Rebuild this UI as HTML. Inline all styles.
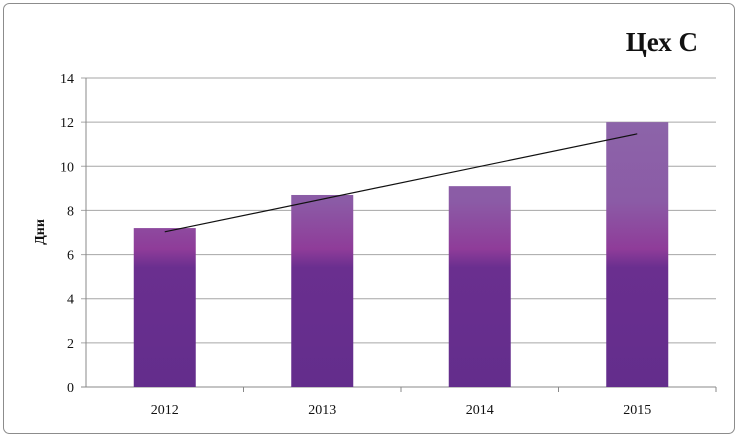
<!DOCTYPE html>
<html><head><meta charset="utf-8"><style>
body{margin:0;background:#fff;}
svg{display:block;font-family:"Liberation Serif",serif;}
</style></head><body>
<svg width="739" height="439">
<defs>
<linearGradient id="g" gradientUnits="userSpaceOnUse" x1="0" y1="122" x2="0" y2="387">
<stop offset="0" stop-color="#8c64a9"/>
<stop offset="0.3" stop-color="#8b5ba6"/>
<stop offset="0.48" stop-color="#8f3c99"/>
<stop offset="0.55" stop-color="#6a2f8f"/>
<stop offset="1" stop-color="#632d8c"/>
</linearGradient>
</defs>
<rect x="3.5" y="3.5" width="731" height="430" rx="6" fill="#fff" stroke="#8c8c8c"/>
<text x="698" y="51" text-anchor="end" font-size="27" font-weight="bold" fill="#111">Цех С</text>
<text transform="translate(44,232) rotate(-90)" text-anchor="middle" font-size="14" font-weight="bold" fill="#111">Дни</text>
<g id="grid"></g><g id="bars"></g><g id="axes"></g>
</svg>
<script>
const categories=["2012","2013","2014","2015"];
const values=[7.2,8.7,9.1,12];
const yTicks=[0,2,4,6,8,10,12,14];
const ns="http://www.w3.org/2000/svg";
const x0=86,x1=716,y0=387,y1=78,yMax=14;
const Y=v=>y0-(v/yMax)*(y0-y1);
const bw=(x1-x0)/categories.length;
const X=i=>x0+bw*(i+0.5);
function mk(t,a,p){const e=document.createElementNS(ns,t);for(const k in a)e.setAttribute(k,a[k]);p.appendChild(e);return e;}
const grid=document.getElementById('grid'),bars=document.getElementById('bars'),axes=document.getElementById('axes');
yTicks.forEach(v=>{
 const l=mk('line',{x1:x0-5,x2:x1,y1:Y(v),y2:Y(v),stroke:v===0?'#888':'#a6a6a6'},grid);
 
 
 const t=mk('text',{x:x0-12,y:Y(v)+5,'text-anchor':'end','font-size':14,fill:'#111'},axes);
 t.textContent=v;
 
 
});
mk('line',{x1:x0,x2:x0,y1:y1,y2:y0,stroke:'#888'},axes);
categories.forEach((c,i)=>{
 const r=mk('rect',{x:X(i)-31,y:Y(values[i]),width:62,height:y0-Y(values[i]),fill:'url(#g)'},bars);
 
 
 const t=mk('text',{x:X(i),y:y0+27,'text-anchor':'middle','font-size':14,fill:'#111'},axes);
 t.textContent=c;
 
 
 const tk=mk('line',{x1:x0+bw*(i+1),x2:x0+bw*(i+1),y1:y0,y2:y0+5,stroke:'#888'},axes);
 
 
});
// linear trend from data
const n=values.length,mx=(n-1)/2,my=values.reduce((a,b)=>a+b,0)/n;
let num=0,den=0;values.forEach((v,i)=>{num+=(i-mx)*(v-my);den+=(i-mx)*(i-mx);});
const s=num/den,b=my-s*mx;
const tl=mk('line',{x1:X(0),y1:Y(b),x2:X(n-1),y2:Y(b+s*(n-1)),stroke:'#111','stroke-width':1.2},axes);


</script>
</body></html>
